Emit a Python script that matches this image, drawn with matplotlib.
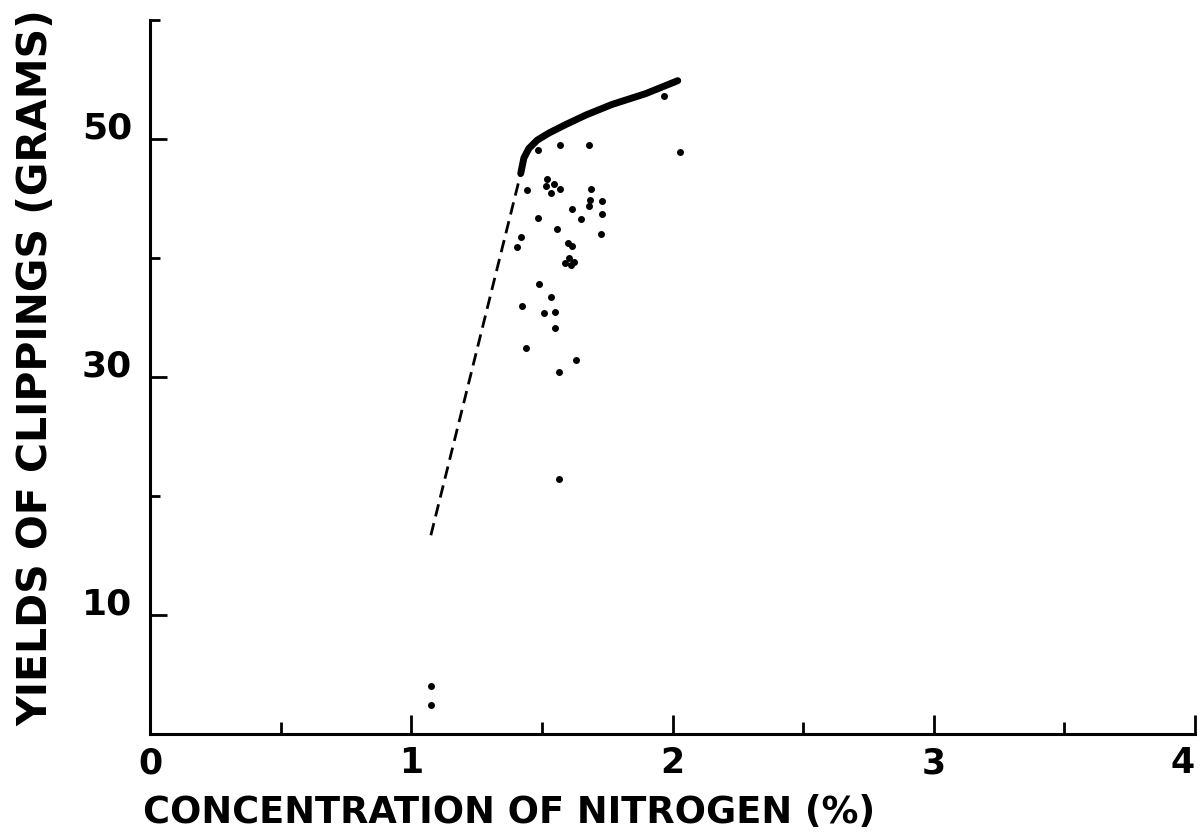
import matplotlib.pyplot as plt
from matplotlib.ticker import MultipleLocator, FixedLocator

# --- data ---
# nitrogen (%) vs yield of clippings (grams)
nitrogen = [1.486, 1.568, 1.679, 2.029, 1.966,
            1.520, 1.546, 1.514, 1.569, 1.534, 1.444, 1.687,
            1.683, 1.729, 1.682, 1.616, 1.729, 1.487, 1.648,
            1.557, 1.725, 1.420, 1.405, 1.600, 1.617, 1.604,
            1.587, 1.610, 1.621, 1.490, 1.533, 1.422, 1.508,
            1.551, 1.551, 1.440, 1.629, 1.564, 1.566,
            1.076, 1.076]
yields = [49.1, 49.5, 49.5, 48.9, 53.6,
          46.6, 46.2, 46.05, 45.8, 45.5, 45.7, 45.8,
          44.9, 44.8, 44.4, 44.1, 43.7, 43.4, 43.3,
          42.4, 42.0, 41.8, 40.9, 41.3, 41.0, 40.0,
          39.6, 39.4, 39.7, 37.8, 36.7, 36.0, 35.4,
          35.5, 34.1, 32.4, 31.4, 30.4, 21.4,
          4.0, 2.4]

# fitted curve (solid part) and its extrapolation (dashed)
curve_x = [1.419, 1.431, 1.450, 1.482, 1.527, 1.590, 1.667, 1.768, 1.896, 2.020]
curve_y = [47.1, 48.4, 49.2, 49.9, 50.5, 51.2, 52.0, 52.9, 53.8, 54.9]
extrap_x = [1.075, 1.419]
extrap_y = [16.7, 47.1]

x_ticks = [0, 1, 2, 3, 4]
y_labels_at = [10, 30, 50]

fig = plt.figure(figsize=(12.02, 8.4), dpi=100)
ax = fig.add_axes([0.1248, 0.1262, 0.8694, 0.8500])

ax.plot(extrap_x, extrap_y, color='black', lw=2.0, linestyle=(0, (4.5, 2.5)))
ax.plot(curve_x, curve_y, color='black', lw=5.0, solid_capstyle='round')
ax.scatter(nitrogen, yields, s=16, color='black', zorder=3)

ax.set_xlim(0, 4)
ax.set_ylim(0, 60)

for s in ['top', 'right']:
    ax.spines[s].set_visible(False)
for s in ['left', 'bottom']:
    ax.spines[s].set_linewidth(2.2)

# x ticks: integers labelled, halves unlabelled
ax.xaxis.set_major_locator(FixedLocator(x_ticks))
ax.xaxis.set_minor_locator(MultipleLocator(0.5))
ax.set_xticklabels([str(v) for v in x_ticks], family='DejaVu Sans', fontsize=25,
                   fontweight='bold')
ax.get_xticklabels()[-1].set_horizontalalignment('right')
ax.tick_params(axis='x', which='major', direction='in', length=14, width=2, pad=9)
ax.tick_params(axis='x', which='minor', direction='in', length=9, width=2)

# y ticks: 10, 30, 50 labelled (sitting on the tick); 20, 40, 60 short
ax.yaxis.set_major_locator(FixedLocator(y_labels_at))
ax.yaxis.set_minor_locator(FixedLocator([20, 40, 60]))
ax.set_yticklabels([str(v) for v in y_labels_at], family='DejaVu Sans', fontsize=26,
                   fontweight='bold', va='baseline')
ax.tick_params(axis='y', which='major', direction='in', length=12, width=2, pad=13)
ax.tick_params(axis='y', which='minor', direction='in', length=7, width=2)

ax.set_xlabel("CONCENTRATION OF NITROGEN (%)", family='DejaVu Sans', fontsize=26.5,
              fontweight='bold')
ax.xaxis.set_label_coords(0.344, -0.084)
ax.set_ylabel("YIELDS OF CLIPPINGS (GRAMS)", family='DejaVu Sans', fontsize=29.5,
              fontweight='bold')
ax.yaxis.set_label_coords(-0.09, 0.513)

fig.savefig("out.png", dpi=100)
